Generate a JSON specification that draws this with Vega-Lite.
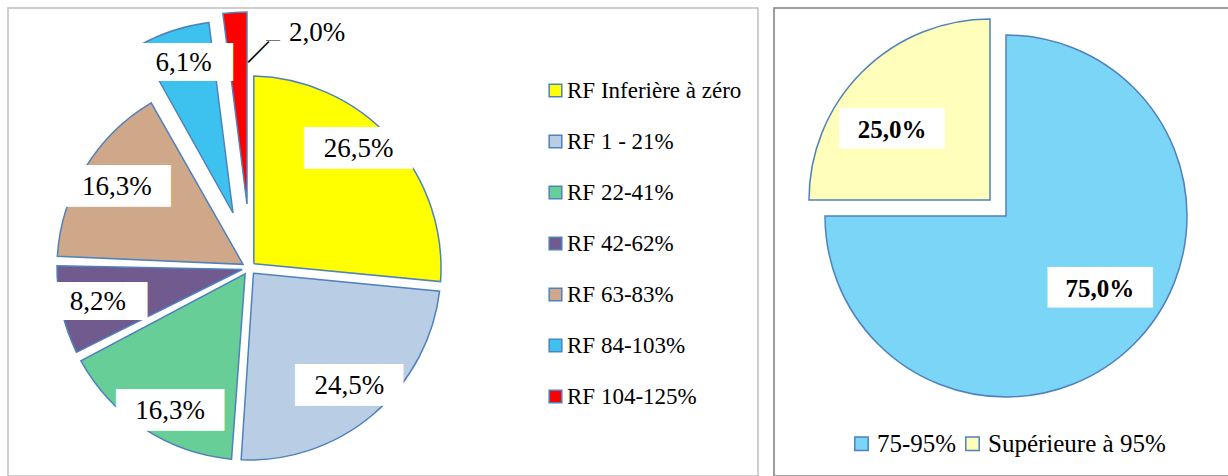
{
  "$schema": "https://vega.github.io/schema/vega-lite/v6.json",
  "padding": {"left": 7, "top": 7, "right": 0, "bottom": 0},
  "background": "white",
  "spacing": 14,
  "config": {"font": "Liberation Serif"},
  "resolve": {"scale": {"color": "independent", "theta": "independent"}, "legend": {"color": "independent"}},
  "datasets": {
    "rf": [
      {"cat": "RF Inferière à zéro", "value": 26.5, "order": 1, "label": "26,5%"},
      {"cat": "RF 1 - 21%", "value": 24.5, "order": 2, "label": "24,5%"},
      {"cat": "RF 22-41%", "value": 16.3, "order": 3, "label": "16,3%"},
      {"cat": "RF 42-62%", "value": 8.2, "order": 4, "label": "8,2%"},
      {"cat": "RF 63-83%", "value": 16.3, "order": 5, "label": "16,3%"},
      {"cat": "RF 84-103%", "value": 6.1, "order": 6, "label": "6,1%"},
      {"cat": "RF 104-125%", "value": 2.0, "order": 7, "label": "2,0%"}
    ],
    "dist": [
      {"cat": "75-95%", "value": 75, "order": 1, "label": "75,0%"},
      {"cat": "Supérieure à 95%", "value": 25, "order": 2, "label": "25,0%"}
    ]
  },
  "hconcat": [
    {
      "width": 750,
      "height": 468,
      "view": {"stroke": "#BFBFBF", "strokeWidth": 1.5},
      "data": {"name": "rf"},
      "transform": [
        {"stack": "value", "groupby": [], "sort": [{"field": "order", "order": "ascending"}], "as": ["v0", "v1"]},
        {"calculate": "(datum.v0 + datum.v1) / 2", "as": "mid"}
      ],
      "layer": [
        {
          "transform": [{"filter": "datum.order <= 5"}],
          "mark": {"type": "arc", "x": 241, "y": 260, "outerRadius": 192, "innerRadius": 7, "padAngle": 0.05, "stroke": "#4F81BD", "strokeWidth": 1.5},
          "encoding": {
            "theta": {"field": "v0", "type": "quantitative", "scale": {"domain": [0, 99.9]}},
            "theta2": {"field": "v1"},
            "color": {
              "field": "cat", "type": "nominal",
              "scale": {
                "domain": ["RF Inferière à zéro", "RF 1 - 21%", "RF 22-41%", "RF 42-62%", "RF 63-83%", "RF 84-103%", "RF 104-125%"],
                "range": ["#FFFF00", "#B9CDE5", "#66CE96", "#715A8D", "#CFA88A", "#3DC2F0", "#FF0000"]
              },
              "legend": {"orient": "none", "direction": "vertical", "legendX": 536, "legendY": 71, "title": null, "symbolType": "square", "symbolSize": 160, "labelFont": "Liberation Serif", "labelFontSize": 23, "labelColor": "black", "labelLimit": 400, "rowPadding": 27, "labelOffset": 0, "symbolStrokeColor": "#4F81BD", "symbolStrokeWidth": 1.5, "padding": 0, "symbolOpacity": 1}
            }
          }
        },
        {
          "transform": [{"filter": "datum.order == 6"}],
          "mark": {"type": "arc", "x": 241, "y": 260, "xOffset": -16, "yOffset": -55, "outerRadius": 192, "stroke": "#4F81BD", "strokeWidth": 1.5},
          "encoding": {
            "theta": {"field": "v0", "type": "quantitative", "scale": {"domain": [0, 99.9]}},
            "theta2": {"field": "v1"},
            "color": {"field": "cat", "type": "nominal"}
          }
        },
        {
          "transform": [{"filter": "datum.order == 7"}],
          "mark": {"type": "arc", "x": 241, "y": 260, "xOffset": -2, "yOffset": -64, "outerRadius": 192, "stroke": "#4F81BD", "strokeWidth": 1.5},
          "encoding": {
            "theta": {"field": "v0", "type": "quantitative", "scale": {"domain": [0, 99.9]}},
            "theta2": {"field": "v1"},
            "color": {"field": "cat", "type": "nominal"}
          }
        },
        {
          "transform": [{"filter": "datum.order == 2 || datum.order == 4 || datum.order == 5"}],
          "mark": {"type": "text", "x": 241, "y": 260, "radius": 155, "font": "DejaVu Sans", "fill": "white", "baseline": "middle", "align": "center"},
          "encoding": {
            "theta": {"field": "mid", "type": "quantitative", "scale": {"domain": [0, 99.9]}},
            "text": {"value": "████"},
            "size": {"condition": {"test": "length(datum.label) < 5", "value": 32}, "value": 35}
          }
        },
        {
          "transform": [{"filter": "datum.order == 2 || datum.order == 4 || datum.order == 5"}],
          "mark": {"type": "text", "x": 241, "y": 260, "radius": 155, "font": "Liberation Serif", "fontSize": 27, "fill": "black", "baseline": "middle", "align": "center"},
          "encoding": {
            "theta": {"field": "mid", "type": "quantitative", "scale": {"domain": [0, 99.9]}},
            "text": {"field": "label"}
          }
        },
        {
          "transform": [{"filter": "datum.order == 1"}],
          "mark": {"type": "text", "x": 241, "y": 260, "radius": 155, "dx": -5, "dy": -15, "font": "DejaVu Sans", "fontSize": 35, "fill": "white", "baseline": "middle", "align": "center"},
          "encoding": {
            "theta": {"field": "mid", "type": "quantitative", "scale": {"domain": [0, 99.9]}},
            "text": {"value": "████"}
          }
        },
        {
          "transform": [{"filter": "datum.order == 1"}],
          "mark": {"type": "text", "x": 241, "y": 260, "radius": 155, "dx": -5, "dy": -15, "font": "Liberation Serif", "fontSize": 27, "fill": "black", "baseline": "middle", "align": "center"},
          "encoding": {
            "theta": {"field": "mid", "type": "quantitative", "scale": {"domain": [0, 99.9]}},
            "text": {"field": "label"}
          }
        },
        {
          "transform": [{"filter": "datum.order == 3"}],
          "mark": {"type": "text", "x": 241, "y": 260, "radius": 155, "dx": 6, "dy": 13, "font": "DejaVu Sans", "fontSize": 35, "fill": "white", "baseline": "middle", "align": "center"},
          "encoding": {
            "theta": {"field": "mid", "type": "quantitative", "scale": {"domain": [0, 99.9]}},
            "text": {"value": "████"}
          }
        },
        {
          "transform": [{"filter": "datum.order == 3"}],
          "mark": {"type": "text", "x": 241, "y": 260, "radius": 155, "dx": 6, "dy": 13, "font": "Liberation Serif", "fontSize": 27, "fill": "black", "baseline": "middle", "align": "center"},
          "encoding": {
            "theta": {"field": "mid", "type": "quantitative", "scale": {"domain": [0, 99.9]}},
            "text": {"field": "label"}
          }
        },
        {
          "transform": [{"filter": "datum.order == 6"}],
          "mark": {"type": "text", "x": 241, "y": 260, "xOffset": -16, "yOffset": -55, "radius": 158, "font": "DejaVu Sans", "fontSize": 32, "fill": "white", "baseline": "middle", "align": "center"},
          "encoding": {
            "theta": {"field": "mid", "type": "quantitative", "scale": {"domain": [0, 99.9]}},
            "text": {"value": "████"}
          }
        },
        {
          "transform": [{"filter": "datum.order == 6"}],
          "mark": {"type": "text", "x": 241, "y": 260, "xOffset": -16, "yOffset": -55, "radius": 158, "font": "Liberation Serif", "fontSize": 27, "fill": "black", "baseline": "middle", "align": "center"},
          "encoding": {
            "theta": {"field": "mid", "type": "quantitative", "scale": {"domain": [0, 99.9]}},
            "text": {"field": "label"}
          }
        },
        {
          "transform": [{"filter": "datum.order == 7"}],
          "mark": {"type": "text", "x": 241, "y": 260, "xOffset": -2, "yOffset": -64, "radius": 190, "dx": 54, "dy": 19, "font": "Liberation Serif", "fontSize": 27, "fill": "black", "baseline": "middle", "align": "left"},
          "encoding": {
            "theta": {"field": "mid", "type": "quantitative", "scale": {"domain": [0, 99.9]}},
            "text": {"field": "label"}
          }
        },
        {
          "transform": [{"filter": "datum.order == 7"}],
          "mark": {"type": "text", "x": 241, "y": 260, "xOffset": -2, "yOffset": -64, "radius": 190, "dx": -10, "dy": 41, "angle": 315, "font": "Liberation Serif", "fontSize": 29, "fill": "black", "baseline": "middle", "align": "center"},
          "encoding": {
            "theta": {"field": "mid", "type": "quantitative", "scale": {"domain": [0, 99.9]}},
            "text": {"value": "—"}
          }
        },
        {
          "transform": [{"filter": "datum.order == 7"}],
          "mark": {"type": "text", "x": 241, "y": 260, "xOffset": -2, "yOffset": -64, "radius": 190, "dx": 38, "dy": 26, "font": "Liberation Serif", "fontSize": 14, "fill": "black", "baseline": "middle", "align": "center"},
          "encoding": {
            "theta": {"field": "mid", "type": "quantitative", "scale": {"domain": [0, 99.9]}},
            "text": {"value": "—"}
          }
        }
      ]
    },
    {
      "width": 456,
      "height": 468,
      "view": {"stroke": "#7F7F7F", "strokeWidth": 1.5},
      "data": {"name": "dist"},
      "transform": [
        {"stack": "value", "groupby": [], "sort": [{"field": "order", "order": "ascending"}], "as": ["v0", "v1"]},
        {"calculate": "(datum.v0 + datum.v1) / 2", "as": "mid"}
      ],
      "layer": [
        {
          "transform": [{"filter": "datum.order == 1"}],
          "mark": {"type": "arc", "x": 232, "y": 208, "outerRadius": 181, "stroke": "#4F81BD", "strokeWidth": 1.5},
          "encoding": {
            "theta": {"field": "v0", "type": "quantitative", "scale": {"domain": [0, 100]}},
            "theta2": {"field": "v1"},
            "color": {
              "field": "cat", "type": "nominal",
              "scale": {"domain": ["75-95%", "Supérieure à 95%"], "range": ["#7AD5F6", "#FFFFBB"]},
              "legend": {"orient": "none", "direction": "horizontal", "legendX": 75, "legendY": 423, "title": null, "symbolType": "square", "symbolSize": 180, "labelFont": "Liberation Serif", "labelFontSize": 25, "labelColor": "black", "labelLimit": 400, "columnPadding": 3, "labelOffset": 3, "symbolStrokeColor": "#4F81BD", "symbolStrokeWidth": 1.5, "padding": 0, "symbolOpacity": 1}
            }
          }
        },
        {
          "transform": [{"filter": "datum.order == 2"}],
          "mark": {"type": "arc", "x": 232, "y": 208, "xOffset": -16, "yOffset": -16, "outerRadius": 181, "stroke": "#4F81BD", "strokeWidth": 1.5},
          "encoding": {
            "theta": {"field": "v0", "type": "quantitative", "scale": {"domain": [0, 100]}},
            "theta2": {"field": "v1"},
            "color": {"field": "cat", "type": "nominal"}
          }
        },
        {
          "transform": [{"filter": "datum.order == 1"}],
          "mark": {"type": "text", "x": 232, "y": 208, "radius": 120, "dx": 9, "dy": -12, "font": "DejaVu Sans", "fontSize": 34, "fill": "white", "baseline": "middle", "align": "center"},
          "encoding": {
            "theta": {"field": "mid", "type": "quantitative", "scale": {"domain": [0, 100]}},
            "text": {"value": "████"}
          }
        },
        {
          "transform": [{"filter": "datum.order == 1"}],
          "mark": {"type": "text", "x": 232, "y": 208, "radius": 120, "dx": 9, "dy": -12, "font": "Liberation Serif", "fontSize": 25, "fontWeight": "bold", "fill": "black", "baseline": "middle", "align": "center"},
          "encoding": {
            "theta": {"field": "mid", "type": "quantitative", "scale": {"domain": [0, 100]}},
            "text": {"field": "label"}
          }
        },
        {
          "transform": [{"filter": "datum.order == 2"}],
          "mark": {"type": "text", "x": 232, "y": 208, "xOffset": -16, "yOffset": -16, "radius": 120, "dx": -13, "dy": 15, "font": "DejaVu Sans", "fontSize": 34, "fill": "white", "baseline": "middle", "align": "center"},
          "encoding": {
            "theta": {"field": "mid", "type": "quantitative", "scale": {"domain": [0, 100]}},
            "text": {"value": "████"}
          }
        },
        {
          "transform": [{"filter": "datum.order == 2"}],
          "mark": {"type": "text", "x": 232, "y": 208, "xOffset": -16, "yOffset": -16, "radius": 120, "dx": -13, "dy": 15, "font": "Liberation Serif", "fontSize": 25, "fontWeight": "bold", "fill": "black", "baseline": "middle", "align": "center"},
          "encoding": {
            "theta": {"field": "mid", "type": "quantitative", "scale": {"domain": [0, 100]}},
            "text": {"field": "label"}
          }
        }
      ]
    }
  ]
}
